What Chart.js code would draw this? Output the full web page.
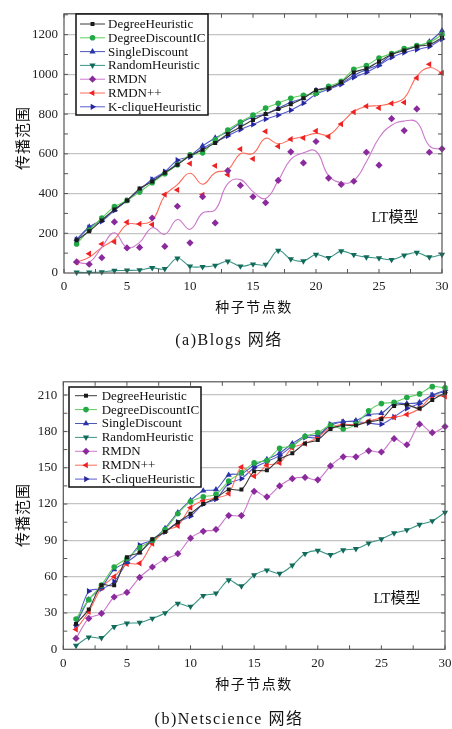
<!DOCTYPE html>
<html><head><meta charset="utf-8">
<script src="https://cdn.jsdelivr.net/npm/chart.js@4"></script>
<style>
html,body{margin:0;padding:0;background:#fff;width:452px;height:729px;overflow:hidden;}
.wrap{position:absolute;left:0;width:452px;}
#wa{top:0;height:360px;}
#wb{top:368px;height:361px;}
</style></head><body>
<div class="wrap" id="wa"><canvas id="ca" width="452" height="360"></canvas></div>
<div class="wrap" id="wb"><canvas id="cb" width="452" height="361"></canvas></div>
<script>
// ---------- data ----------
const seeds = [1,2,3,4,5,6,7,8,9,10,11,12,13,14,15,16,17,18,19,20,21,22,23,24,25,26,27,28,29,30];
const xTickLabels = [0,5,10,15,20,25,30];
const yTickLabelsA = [0,200,400,600,800,1000,1200];
const yTickLabelsB = [0,30,60,90,120,150,180,210];
const seriesNames = ['DegreeHeuristic','DegreeDiscountIC','SingleDiscount','RandomHeuristic','RMDN','RMDN++','K-cliqueHeuristic'];

// (a) Blogs
const blogsDegree   = [165,210,265,320,365,425,460,505,545,590,620,655,700,735,770,800,825,850,880,920,930,960,1010,1030,1065,1100,1120,1140,1150,1185];
const blogsDDIC     = [146,216,277,334,365,408,455,500,545,595,605,670,720,760,795,830,855,880,895,905,940,965,1025,1045,1082,1105,1130,1145,1160,1200];
const blogsSingle   = [170,232,268,318,365,420,468,505,550,590,640,680,712,755,785,800,830,860,880,920,935,955,995,1025,1050,1100,1125,1140,1165,1220];
const blogsKClique  = [168,228,260,315,365,418,472,510,568,585,628,660,690,722,748,775,795,820,855,900,925,950,985,1010,1045,1085,1110,1125,1140,1178];
const blogsRandom   = [3,3,5,12,13,15,26,21,74,34,31,38,59,34,44,43,113,70,60,93,77,110,92,80,75,67,89,103,80,93];
const blogsRMDN     = [56,44,77,257,126,129,277,134,336,152,384,252,515,441,384,354,466,610,554,662,478,446,462,608,543,777,717,826,608,625];
const blogsRMDNFit  = [53,53,130,203,129,154,228,195,269,220,302,318,450,470,410,375,465,572,605,613,490,455,466,560,680,744,765,760,640,621];
const blogsRMDNpp   = [54,97,146,157,256,247,244,395,418,551,394,540,495,624,575,713,638,674,680,715,687,750,810,840,831,854,859,982,1051,1007];
const blogsRMDNppFit= [55,79,129,170,244,247,265,390,445,502,447,505,520,600,602,678,650,672,687,703,695,753,813,838,843,854,880,990,1034,1007];

// (b) Netscience
const netDegree  = [21,33,53,53,76,80,91,97,105,112,120,125,132,132,147,148,157,162,170,173,182,185,185,188,190,201,202,199,206,212];
const netDDIC    = [25,41,53,68,75,84,90,99,112,122,126,128,139,146,154,156,166,168,176,179,185,182,186,197,203,204,208,211,217,216];
const netSingle  = [21,41,51,66,72,80,90,100,113,123,131,132,144,145,152,157,162,170,176,177,185,188,189,194,195,203,203,204,210,213];
const netKClique = [20,48,50,56,72,86,90,97,105,110,120,124,137,141,150,155,160,168,175,175,186,188,188,187,186,192,199,203,210,214];
const netRandom  = [3,10,9.5,18.6,21.5,22,25.5,30,37.8,35.4,44.3,46.3,57.2,52.2,61.3,65.3,62.5,69.3,79,81.5,78,82,83,87.6,91,96,98.6,103,106,113];
const netRMDN    = [9,25.5,29.6,43.2,47,59.4,68,74.5,79,91.8,97.5,99,110.5,110.5,130.5,126,135,141,142,140,151.5,159,159,164,163,174,169,186,179,184];
const netRMDNpp  = [16.4,31,51,60,70.5,71,87.3,98,102,117,123,125,128.7,150.6,143,152,154,166.5,170,175,183.5,185.7,185.7,188.5,191,191.7,194,199,209,209];

// ---------- styles ----------
const STY = [
  {line:'#3a3a3a', mark:'#1a1a1a', style:'rect',     rot:0,   r:2.8},
  {line:'#5fcf5f', mark:'#22a844', style:'circle',   rot:0,   r:2.8},
  {line:'#4a58b8', mark:'#2a36a8', style:'triangle', rot:0,   r:3.6},
  {line:'#3a9484', mark:'#126a5a', style:'triangle', rot:180, r:3.6},
  {line:'#cc78cc', mark:'#8a2a9c', style:'rectRot',  rot:0,   r:3.6},
  {line:'#ff6a5a', mark:'#ee2222', style:'triangle', rot:270, r:3.6},
  {line:'#5a5ad0', mark:'#26269e', style:'triangle', rot:90,  r:3.6}
];
const pts = arr => seeds.map((s,i)=>({x:s,y:arr[i]}));
function ds(arr, k, o) {
  const s = STY[k];
  return Object.assign({
    data: pts(arr), borderColor: s.line, backgroundColor: s.mark,
    pointBackgroundColor: s.mark, pointBorderColor: s.mark, pointBorderWidth: 0,
    pointStyle: s.style, pointRotation: s.rot, pointRadius: s.r,
    borderWidth: 1.1, tension: 0.3, clip: 6
  }, o || {});
}

const SERIF = '"Liberation Serif","Noto Sans CJK SC",serif';
const CJK = '"Noto Sans CJK SC",sans-serif';

function decor(cfg) {
  return {
    id: 'decor',
    afterDatasetsDraw(chart) {
      const {ctx, chartArea: a, scales: {x, y}} = chart;
      ctx.save();
      // frame
      ctx.strokeStyle = '#555'; ctx.lineWidth = 1.2;
      ctx.strokeRect(a.left, a.top, a.right - a.left, a.bottom - a.top);
      // inward ticks
      ctx.beginPath(); ctx.lineWidth = 1;
      for (let v = 0; v <= 30; v += 2.5) {
        const px = x.getPixelForValue(v);
        ctx.moveTo(px, a.bottom); ctx.lineTo(px, a.bottom - 4);
        ctx.moveTo(px, a.top); ctx.lineTo(px, a.top + 4);
      }
      for (let v = cfg.minor; v < y.max; v += cfg.minor) {
        const py = y.getPixelForValue(v);
        ctx.moveTo(a.left, py); ctx.lineTo(a.left + 4, py);
        ctx.moveTo(a.right, py); ctx.lineTo(a.right - 4, py);
      }
      ctx.stroke();
      // legend
      const L = cfg.legend;
      ctx.fillStyle = '#fff'; ctx.fillRect(L.x, L.y, L.w, L.h);
      ctx.strokeStyle = '#111'; ctx.lineWidth = 1.5; ctx.strokeRect(L.x, L.y, L.w, L.h);
      ctx.font = '13px ' + SERIF; ctx.textBaseline = 'middle'; ctx.textAlign = 'left';
      seriesNames.forEach((n, i) => {
        const s = STY[i], yy = L.y0 + i * L.step;
        ctx.strokeStyle = s.line; ctx.lineWidth = 1;
        ctx.beginPath(); ctx.moveTo(L.l0, yy); ctx.lineTo(L.l1, yy); ctx.stroke();
        ctx.fillStyle = s.mark; ctx.strokeStyle = s.mark;
        Chart.helpers.drawPoint(ctx, {pointStyle: s.style, rotation: s.rot, radius: s.r, borderWidth: 0}, (L.l0 + L.l1) / 2, yy);
        ctx.fillStyle = '#111';
        ctx.fillText(n, L.tx, yy + 0.5);
      });
      // LT model label
      ctx.fillStyle = '#111'; ctx.textAlign = 'center';
      ctx.font = '15px ' + SERIF;
      ctx.fillText('LT模型', cfg.lt[0], cfg.lt[1]);
      // axis titles
      ctx.font = '14px ' + CJK; ctx.letterSpacing = '1.5px';
      ctx.fillText('种子节点数', cfg.xt[0], cfg.xt[1]);
      ctx.save();
      ctx.translate(cfg.yt[0], cfg.yt[1]); ctx.rotate(-Math.PI / 2);
      ctx.font = '15px ' + CJK; ctx.letterSpacing = '1px';
      ctx.fillText('传播范围', 0, 0);
      ctx.restore();
      // caption
      ctx.font = '16px ' + SERIF; ctx.letterSpacing = '1.5px';
      ctx.fillText(cfg.caption, cfg.cap[0], cfg.cap[1]);
      ctx.restore();
    }
  };
}

function makeChart(el, datasets, opt) {
  return new Chart(el, {
    type: 'line',
    data: {datasets},
    options: {
      responsive: false, animation: false, events: [],
      layout: {padding: opt.pad},
      plugins: {legend: {display: false}, tooltip: {enabled: false}},
      scales: {
        x: {
          type: 'linear', min: 0, max: 30,
          afterFit(s) { s.height = 40; },
          grid: {display: false}, border: {display: false},
          ticks: {stepSize: 5, padding: -2, maxRotation: 0, autoSkip: false, color: '#222',
            font: {family: SERIF, size: 13},
            callback: v => xTickLabels.includes(v) ? String(v) : ''}
        },
        y: {
          type: 'linear', min: 0, max: opt.ymax,
          afterFit(s) { s.width = opt.yw; },
          border: {display: false},
          grid: {drawTicks: false, lineWidth: 1.3,
            color: c => (c.tick && c.tick.value > 0 && opt.yticks.includes(c.tick.value)) ? '#c4c4c4' : 'rgba(0,0,0,0)'},
          ticks: {stepSize: opt.ystep, includeBounds: false, padding: 6, color: '#222', font: {family: SERIF, size: 13},
            callback: v => opt.yticks.includes(v) ? String(v) : ''}
        }
      }
    },
    plugins: [decor(opt.decor)]
  });
}

// (a)
makeChart(document.getElementById('ca'), [
  ds(blogsDegree, 0), ds(blogsDDIC, 1), ds(blogsSingle, 2), ds(blogsRandom, 3, {tension: 0.4}),
  ds(blogsRMDN, 4, {showLine: false}), ds(blogsRMDNFit, 4, {pointRadius: 0, tension: 0.45}),
  ds(blogsRMDNpp, 5, {showLine: false}), ds(blogsRMDNppFit, 5, {pointRadius: 0, tension: 0.45}),
  ds(blogsKClique, 6)
], {
  pad: {left: 0, right: 10, top: 7.5, bottom: 47},
  ymax: 1305, ystep: 200, yw: 64, yticks: yTickLabelsA,
  decor: {minor: 100,
    legend: {x: 76, y: 14, w: 132, h: 101, y0: 24, step: 13.8, l0: 80, l1: 105, tx: 108},
    lt: [395, 218], xt: [254, 307], yt: [22, 138], caption: '(a)Blogs 网络', cap: [229, 341]}
});

// (b)
makeChart(document.getElementById('cb'), [
  ds(netDegree, 0), ds(netDDIC, 1), ds(netSingle, 2), ds(netRandom, 3),
  ds(netRMDN, 4), ds(netRMDNpp, 5), ds(netKClique, 6)
], {
  pad: {left: 0, right: 7, top: 12, bottom: 39.7},
  ymax: 221, ystep: 30, yw: 63.3, yticks: yTickLabelsB,
  decor: {minor: 15,
    legend: {x: 69, y: 19, w: 132, h: 100, y0: 27.7, step: 13.9, l0: 75, l1: 97, tx: 101.7},
    lt: [397, 231], xt: [254, 316], yt: [22, 147], caption: '(b)Netscience 网络', cap: [229, 352]}
});
</script>
</body></html>
